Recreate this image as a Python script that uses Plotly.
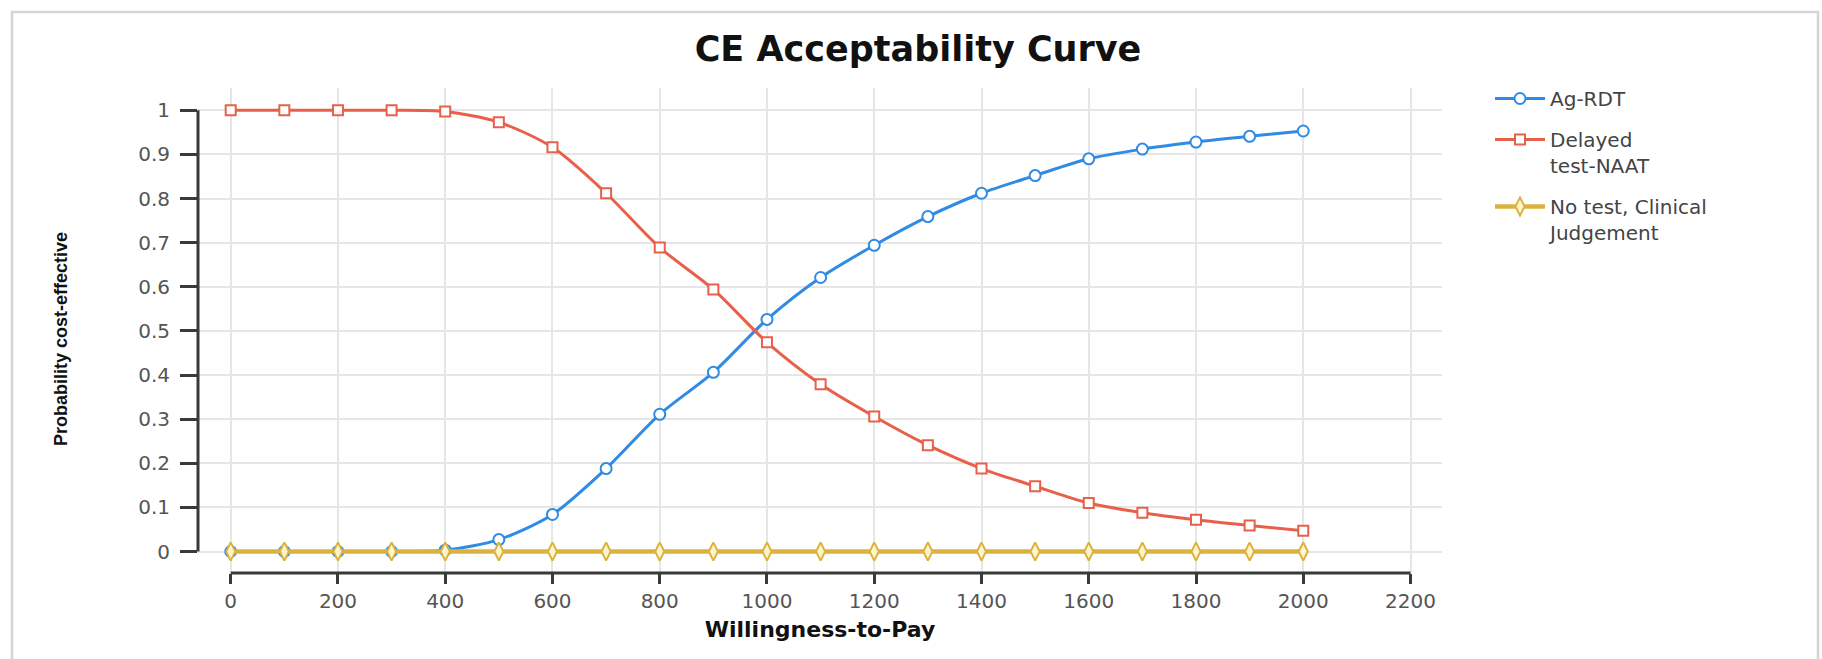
import plotly.graph_objects as go

# ---------------- data ----------------
wtp = [0, 100, 200, 300, 400, 500, 600, 700, 800, 900, 1000,
       1100, 1200, 1300, 1400, 1500, 1600, 1700, 1800, 1900, 2000]
ag_rdt = [0.0, 0.0, 0.0, 0.0, 0.003, 0.027, 0.084, 0.188, 0.311, 0.406, 0.526,
          0.621, 0.694, 0.759, 0.812, 0.852, 0.890, 0.912, 0.928, 0.941, 0.953]
delayed_naat = [1.0, 1.0, 1.0, 1.0, 0.997, 0.973, 0.916, 0.812, 0.689, 0.594, 0.474,
                0.379, 0.306, 0.241, 0.188, 0.148, 0.110, 0.088, 0.072, 0.059, 0.047]
no_test = [0.0, 0.0, 0.0, 0.0, 0.0, 0.0, 0.0, 0.0, 0.0, 0.0, 0.0,
           0.0, 0.0, 0.0, 0.0, 0.0, 0.0, 0.0, 0.0, 0.0, 0.0]

series_names = ["Ag-RDT", "Delayed<br>test-NAAT", "No test, Clinical<br>Judgement"]
x_ticks = [0, 200, 400, 600, 800, 1000, 1200, 1400, 1600, 1800, 2000, 2200]
x_ticktext = ["0", "200", "400", "600", "800", "1000", "1200", "1400",
              "1600", "1800", "2000", "2200"]
y_ticks = [0, 0.1, 0.2, 0.3, 0.4, 0.5, 0.6, 0.7, 0.8, 0.9, 1]
y_ticktext = ["0", "0.1", "0.2", "0.3", "0.4", "0.5", "0.6", "0.7", "0.8", "0.9", "1"]

title_text = "CE Acceptability Curve"
x_title = "Willingness-to-Pay"
y_title = "Probability cost-effective"

# ---------------- styling ----------------
BLUE = "#2f8be3"
RED = "#e8604a"
GOLD = "#dcb23e"
AXIS = "#3a3a3a"
GRID = "#e6e6e6"
TICKFONT = dict(family="DejaVu Sans", size=20, color="#555555")

W, H = 1822, 659
L, R, T, B = 198, 1442, 88, 573   # plot area in px


def px_x(p):
    return (p - L) / (R - L)


def px_y(p):
    return (B - p) / (B - T)


fig = go.Figure()

fig.add_trace(go.Scatter(
    x=wtp, y=ag_rdt, name=series_names[0], legendgroup="a", mode="lines+markers",
    line=dict(color=BLUE, width=3, shape="spline", smoothing=0.8),
    marker=dict(symbol="circle", size=11, color="white",
                line=dict(color=BLUE, width=2)),
))
fig.add_trace(go.Scatter(
    x=wtp, y=delayed_naat, name=series_names[1], legendgroup="b", mode="lines+markers",
    line=dict(color=RED, width=3, shape="spline", smoothing=0.8),
    marker=dict(symbol="square", size=10, color="white",
                line=dict(color=RED, width=2)),
))
fig.add_trace(go.Scatter(
    x=wtp, y=no_test, name=series_names[2], legendgroup="c", mode="lines+markers",
    line=dict(color=GOLD, width=4.5, shape="spline", smoothing=0.8),
    marker=dict(symbol="diamond-tall", size=13, color="#fff4cc",
                line=dict(color=GOLD, width=2)),
))

fig.update_layout(
    width=W, height=H,
    margin=dict(l=L, r=W - R, t=T, b=H - B, pad=0),
    paper_bgcolor="white", plot_bgcolor="white",
    title=dict(text=title_text, x=918 / W, xref="container", xanchor="center",
               y=1 - 49 / H, yref="container", yanchor="middle",
               font=dict(family="DejaVu Sans", size=35, color="#111111", weight="bold")),
    legend=dict(x=px_x(1490), y=px_y(79), xanchor="left", yanchor="top",
                font=dict(family="DejaVu Sans", size=20, color="#444444"),
                valign="top", itemwidth=50, tracegroupgap=12,
                traceorder="grouped", bgcolor="rgba(0,0,0,0)"),
    showlegend=True,
    xaxis=dict(
        range=[-61.0, 2258.7], tickvals=x_ticks, ticktext=x_ticktext,
        showgrid=True, gridcolor=GRID, gridwidth=1.5, zeroline=False,
        showline=False, ticks="outside", ticklen=10, tickwidth=2.5, tickcolor=AXIS,
        tickfont=TICKFONT,
        title=dict(text=x_title, standoff=9,
                   font=dict(family="DejaVu Sans", size=22, color="#111111", weight="bold")),
    ),
    yaxis=dict(
        range=[-0.0487, 1.0505], tickvals=y_ticks, ticktext=y_ticktext,
        showgrid=True, gridcolor=GRID, gridwidth=1.5, zeroline=False,
        showline=False, ticks="outside", ticklen=17, tickwidth=2.5, tickcolor=AXIS,
        tickfont=TICKFONT, ticklabelstandoff=6,
    ),
    annotations=[
        dict(text=y_title, xref="paper", yref="paper", x=px_x(61), y=px_y(339),
             xanchor="center", yanchor="middle", textangle=-90, showarrow=False,
             font=dict(family="Liberation Sans", size=18, color="#111111", weight="bold")),
    ],
    shapes=[
        # outer frame
        dict(type="rect", xref="paper", yref="paper",
             x0=px_x(12), x1=px_x(1818), y0=px_y(672), y1=px_y(12),
             line=dict(color="#d4d4d4", width=2.5), layer="below"),
        # x axis line spanning the tick range only
        dict(type="line", xref="x", yref="paper",
             x0=x_ticks[0], x1=x_ticks[-1], y0=0, y1=0,
             line=dict(color=AXIS, width=3), layer="above"),
        # y axis line spanning the tick range only
        dict(type="line", xref="paper", yref="y",
             x0=0, x1=0, y0=y_ticks[0], y1=y_ticks[-1],
             line=dict(color=AXIS, width=3), layer="above"),
    ],
)

fig.write_html("out.html", config={"displayModeBar": False},
               post_script="document.body.style.margin='0';")
